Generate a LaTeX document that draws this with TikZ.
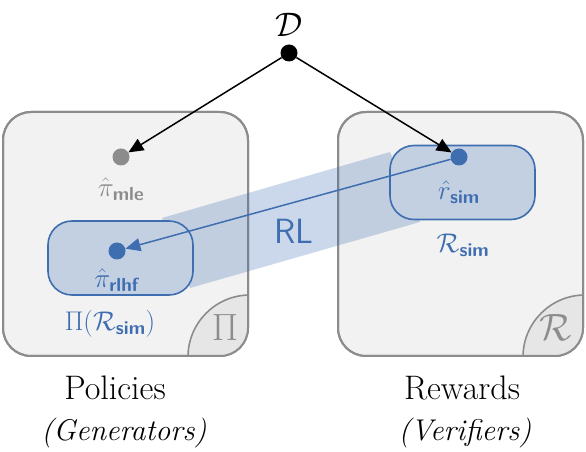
\RequirePackage{fix-cm}
\documentclass[tikz,border=0pt]{standalone}
\usepackage{amsmath}
\usepackage{amssymb}
\usetikzlibrary{arrows.meta}
\usetikzlibrary{calc}
\usetikzlibrary{positioning}

\definecolor{simblue}{HTML}{3E6DB0}
\definecolor{boxgray}{HTML}{8C8C8C}
\definecolor{boxfill}{HTML}{F2F2F2}
\definecolor{cornerfill}{HTML}{E6E6E6}
\definecolor{innerfill}{HTML}{C3D0E2}

\begin{document}
\begin{tikzpicture}[
		x=1pt,
		y=1pt,
		font=\fontsize{27pt}{31pt}\selectfont,
		>={Triangle[length=15,width=13]},
	]
		\tikzset{space/.style={
			draw=boxgray,
			fill=boxfill,
			line width=2,
			rounded corners=28,
			minimum width=245,
			minimum height=244,
			inner sep=0,
			outer sep=0,
		}}
		\tikzset{subset/.style={
			draw=simblue,
			fill=innerfill,
			line width=1.6,
			rounded corners=24,
			minimum width=145,
			minimum height=74,
			inner sep=0,
			outer sep=0,
		}}
		\tikzset{dot/.style={
			circle,
			inner sep=0,
			minimum size=17,
		}}
		\tikzset{corner/.style={
			draw=boxgray,
			fill=cornerfill,
			line width=1.6,
		}}
		\tikzset{caption/.style={
			font=\fontsize{34pt}{38pt}\selectfont,
		}}
		\tikzset{subcaption/.style={
			font=\fontsize{30pt}{34pt}\selectfont\itshape,
		}}

		\useasboundingbox (0,0) rectangle (586,452);

		%---------------------------------
		% Spaces
		\node[space] (polbox) at (125.5,218) {};
		\node[space] (rewbox) at (460.5,218) {};

		\begin{scope}
			\clip[rounded corners=28] (polbox.south west) rectangle (polbox.north east);
			\draw[corner] ($(polbox.south east)+(2,-1)$) circle (62);
		\end{scope}
		\begin{scope}
			\clip[rounded corners=28] (rewbox.south west) rectangle (rewbox.north east);
			\draw[corner] ($(rewbox.south east)+(2,-1)$) circle (62);
		\end{scope}
		\draw[boxgray, line width=2, rounded corners=28] (polbox.south west) rectangle (polbox.north east);
		\draw[boxgray, line width=2, rounded corners=28] (rewbox.south west) rectangle (rewbox.north east);

		\node[boxgray, font=\fontsize{38pt}{42pt}\selectfont] (pisym) at (225,124) {$\Pi$};
		\node[boxgray, font=\fontsize{38pt}{42pt}\selectfont] (rsym) at (556,124) {$\mathcal{R}$};

		%---------------------------------
		% RL band
		\fill[simblue, fill opacity=0.27] (162,234) -- (390,300) -- (420,230) -- (190,164) -- cycle;

		%---------------------------------
		% Subsets
		\node[subset] (rlhfbox) at (120.5,194) {};
		\node[subset] (simbox) at (462.5,269.5) {};

		%---------------------------------
		% Points
		\node[dot, fill=black] (data) at (289,399) {};
		\node[dot, fill=boxgray] (mle) at (121,295) {};
		\node[dot, fill=simblue] (rlhf) at (117,201) {};
		\node[dot, fill=simblue] (rsim) at (459,295) {};

		\node[font=\fontsize{34pt}{38pt}\selectfont, inner sep=1] (datalabel) at (289,427) {$\mathcal{D}$};
		\node[boxgray] (mlelabel) at (121,263) {$\hat{\pi}_{\textsf{\textbf{mle}}}$};
		\node[simblue] (rlhflabel) at (117,172) {$\hat{\pi}_{\textsf{\textbf{rlhf}}}$};
		\node[simblue] (rsimlabel) at (459,260) {$\hat{r}_{\textsf{\textbf{sim}}}$};
		\node[simblue] (simlabel) at (463,207) {$\mathcal{R}_{\textsf{\textbf{sim}}}$};
		\node[simblue] (pisimlabel) at (110,128) {$\Pi(\mathcal{R}_{\textsf{\textbf{sim}}})$};
		\node[simblue, font=\fontsize{35pt}{39pt}\selectfont\sffamily] (rl) at (294,221) {RL};

		\draw[->, line width=1.5] (data) -- (mle);
		\draw[->, line width=1.5] (data) -- (rsim);
		\draw[->, simblue, line width=1.5] (rsim) -- (rlhf);

		%---------------------------------
		% Captions
		\node[caption] (poltitle) at (115,64) {Policies};
		\node[subcaption] (polsub) at (124,19) {(Generators)};
		\node[caption] (rewtitle) at (462,64) {Rewards};
		\node[subcaption] (rewsub) at (465,19) {(Verifiers)};
	\end{tikzpicture}
\end{document}
